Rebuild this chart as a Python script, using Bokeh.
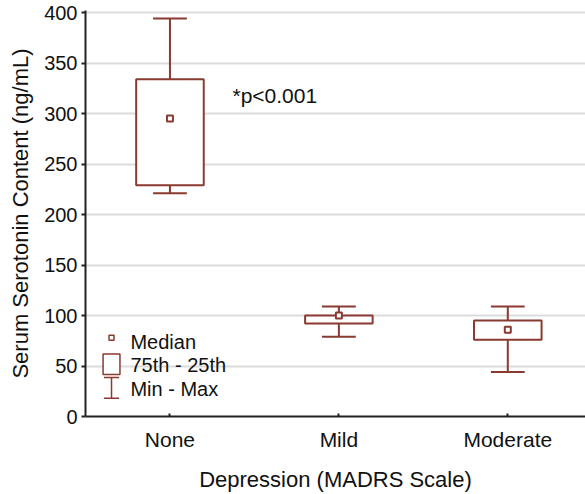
from bokeh.plotting import figure
from bokeh.models import FixedTicker, Range1d
from bokeh.embed import file_html
from bokeh.resources import INLINE
from bokeh.core.properties import value

categories = ["None", "Mild", "Moderate"]
mins = [221, 79, 44]
q1s = [229, 92, 76]
medians = [295, 100, 86]
q3s = [334, 100, 95]
maxs = [394, 109, 109]
y_ticks = [0, 50, 100, 150, 200, 250, 300, 350, 400]
annotation = "*p<0.001"
legend_labels = ["Median", "75th - 25th", "Min - Max"]

COLOR = "#8a3a30"
FONT = "Liberation Sans"
xs = [i + 0.5 for i in range(len(categories))]
BOX_W = 0.4
CAP_W = 0.2

p = figure(width=585, height=494, output_backend="svg", toolbar_location=None,
           x_range=Range1d(0, 2.96), y_range=Range1d(0, 402),
           min_border_left=85, min_border_right=0, min_border_top=10, min_border_bottom=78)
p.outline_line_color = None
p.background_fill_color = "white"

# grid
p.xgrid.visible = False
p.ygrid.grid_line_color = "#dcdcdc"
p.ygrid.grid_line_width = 2
p.ygrid.ticker = FixedTicker(ticks=y_ticks)

# axes
p.yaxis.ticker = FixedTicker(ticks=y_ticks)
p.xaxis.ticker = FixedTicker(ticks=xs)
p.xaxis.major_label_overrides = {x: c for x, c in zip(xs, categories)}
for ax in (p.xaxis[0], p.yaxis[0]):
    ax.axis_line_color = "#222222"
    ax.axis_line_width = 2
    ax.major_tick_line_color = "#222222"
    ax.major_tick_line_width = 2
    ax.minor_tick_line_color = None
    ax.major_label_text_font = FONT
    ax.major_label_text_font_size = "20px"
    ax.major_label_text_color = "#111111"
    ax.axis_label_text_font = FONT
    ax.axis_label_text_font_size = "22px"
    ax.axis_label_text_font_style = "normal"
    ax.axis_label_text_color = "#111111"
p.xaxis.major_label_text_font_size = "21px"
p.yaxis.major_tick_out = 4
p.yaxis.major_tick_in = 0
p.yaxis.major_label_standoff = 4
p.yaxis.axis_label = "Serum Serotonin Content (ng/mL)"
p.yaxis.axis_label_standoff = 8
p.xaxis.major_tick_out = 0
p.xaxis.major_tick_in = 3
p.xaxis.major_label_standoff = 11
p.xaxis.axis_label = "Depression (MADRS Scale)"
p.xaxis.axis_label_standoff = 13

# whiskers
p.segment(x0=xs, y0=q3s, x1=xs, y1=maxs, line_color=COLOR, line_width=2)
p.segment(x0=xs, y0=q1s, x1=xs, y1=mins, line_color=COLOR, line_width=2)
p.segment(x0=[x - CAP_W / 2 for x in xs], y0=maxs, x1=[x + CAP_W / 2 for x in xs], y1=maxs,
          line_color=COLOR, line_width=2)
p.segment(x0=[x - CAP_W / 2 for x in xs], y0=mins, x1=[x + CAP_W / 2 for x in xs], y1=mins,
          line_color=COLOR, line_width=2)
# boxes
p.quad(left=[x - BOX_W / 2 for x in xs], right=[x + BOX_W / 2 for x in xs],
       bottom=q1s, top=q3s, fill_color="white", line_color=COLOR, line_width=2)
# medians
p.scatter(x=xs, y=medians, marker="square", size=6, fill_color="white",
          line_color=COLOR, line_width=2)

# annotation
p.text(x=[0.87], y=[318], text=[annotation], text_font=value(FONT), text_font_size="21px",
       text_color="#111111", text_baseline="middle", text_align="left")

# legend (drawn)
lx = 0.154
p.scatter(x=[lx], y=[78], marker="square", size=5, fill_color="white",
          line_color=COLOR, line_width=1.5)
p.quad(left=[lx - 0.05], right=[lx + 0.05], bottom=[41.6], top=[62],
       fill_color="white", line_color=COLOR, line_width=1.5)
p.segment(x0=[lx], y0=[18], x1=[lx], y1=[38.6], line_color=COLOR, line_width=1.5)
p.segment(x0=[lx - 0.045, lx - 0.045], y0=[18, 38.6], x1=[lx + 0.045, lx + 0.045], y1=[18, 38.6],
          line_color=COLOR, line_width=1.5)
p.text(x=[0.266] * 3, y=[74, 50.5, 27.5], text=legend_labels, text_font=value(FONT),
       text_font_size="20px", text_color="#111111", text_baseline="middle", text_align="left")

open("out.html", "w").write(file_html(p, INLINE))
